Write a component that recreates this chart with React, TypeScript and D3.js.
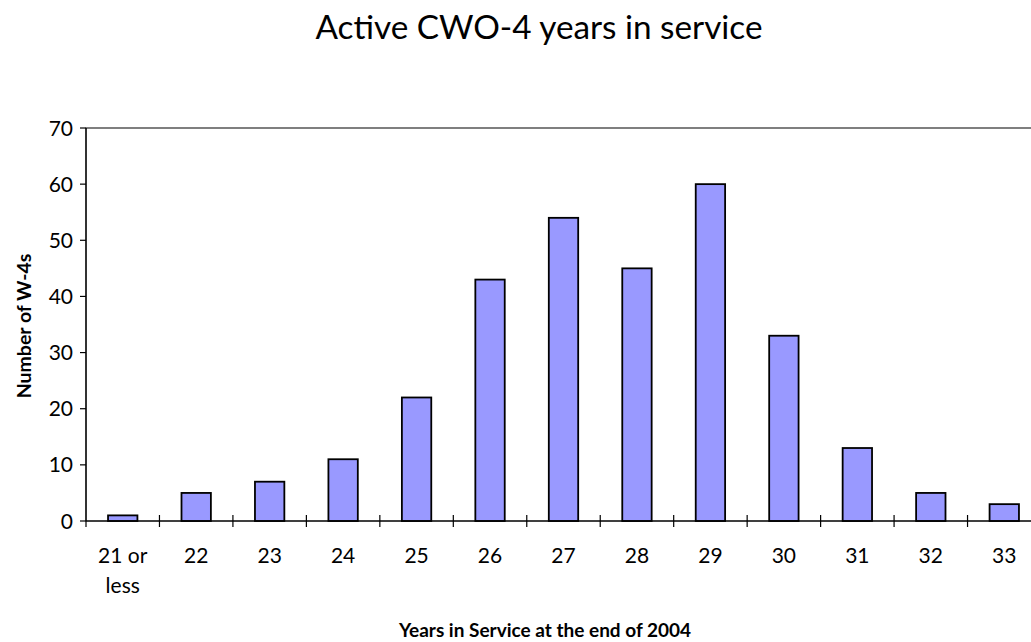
import React from "react";
import * as d3 from "d3";

// Years-in-service categories and CWO-4 head counts
const categories = ["21 or less", "22", "23", "24", "25", "26", "27", "28", "29", "30", "31", "32", "33"];
const counts = [1, 5, 7, 11, 22, 43, 54, 45, 60, 33, 13, 5, 3];
const yTicks = [0, 10, 20, 30, 40, 50, 60, 70];

const W = 1031;
const H = 642;
const FONT = "Lato, 'Open Sans', sans-serif";

export default function App() {
  const left = 86;
  const right = 1041;
  const top = 128;
  const bottom = 521;

  const x = d3.scaleBand<string>().domain(categories).range([left, right]).paddingInner(0).paddingOuter(0);
  const y = d3.scaleLinear().domain([0, 70]).range([bottom, top]);
  const bw = x.bandwidth();
  const barW = bw / 2.5;

  return (
    <svg width={W} height={H} style={{ position: "absolute", left: 0, top: 0, background: "#fff" }}>
      <text x={539} y={39} textAnchor="middle" fontFamily={FONT} fontSize={33.3} fill="#000">
        Active CWO-4 years in service
      </text>

      {/* plot frame */}
      <rect x={left} y={top} width={right - left} height={bottom - top} fill="none" stroke="#000" strokeWidth={1} />

      {/* bars */}
      {counts.map((v, i) => {
        const cx = (x(categories[i]) as number) + bw / 2;
        return (
          <rect
            key={i}
            x={cx - barW / 2}
            y={y(v)}
            width={barW}
            height={bottom - y(v)}
            fill="#9999FF"
            stroke="#000"
            strokeWidth={1.8}
          />
        );
      })}

      {/* y axis */}
      <line x1={left} x2={left} y1={top} y2={bottom + 6} stroke="#000" strokeWidth={1.2} />
      {yTicks.map((t) => (
        <g key={t}>
          <line x1={left - 6} x2={left} y1={y(t)} y2={y(t)} stroke="#000" strokeWidth={1.2} />
          <text x={left - 13} y={y(t)} dy="0.36em" textAnchor="end" fontFamily={FONT} fontSize={21} fill="#000">
            {t}
          </text>
        </g>
      ))}

      {/* x axis */}
      <line x1={left} x2={right} y1={bottom} y2={bottom} stroke="#000" strokeWidth={1.2} />
      {categories.map((c, i) => {
        const bx = (x(c) as number) + bw;
        const cx = (x(c) as number) + bw / 2;
        const parts = c === "21 or less" ? ["21 or", "less"] : [c];
        return (
          <g key={c}>
            {i < categories.length - 1 && (
              <line x1={bx} x2={bx} y1={bottom - 6} y2={bottom + 6} stroke="#000" strokeWidth={1.2} />
            )}
            {parts.map((p, k) => (
              <text key={k} x={cx} y={563 + k * 30} textAnchor="middle" fontFamily={FONT} fontSize={21} fill="#000">
                {p}
              </text>
            ))}
          </g>
        );
      })}

      <text x={545} y={637} textAnchor="middle" fontFamily={FONT} fontSize={19} fontWeight="bold" fill="#000">
        Years in Service at the end of 2004
      </text>
      <text
        transform={`translate(31,326) rotate(-90)`}
        textAnchor="middle"
        fontFamily={FONT}
        fontSize={19.5}
        fontWeight="bold"
        fill="#000"
      >
        Number of W-4s
      </text>
    </svg>
  );
}
